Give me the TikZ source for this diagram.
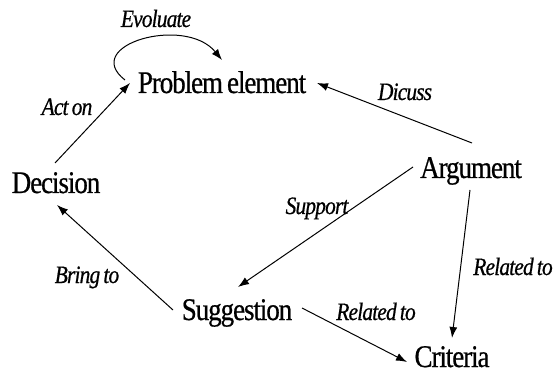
\documentclass[tikz,border=0pt]{standalone}
\usepackage{fontspec}
\usetikzlibrary{arrows.meta}
\newfontfamily\termfont[FakeStretch=0.86, LetterSpace=-3.5, WordSpace=0.7, FakeBold=0.6]{Liberation Serif}
\begin{document}
\begin{tikzpicture}[x=1pt, y=-1pt,
  term/.style={font=\termfont\fontsize{31.5}{33}\selectfont, inner sep=0pt, anchor=base},
  rel/.style={font=\termfont\itshape\fontsize{25}{27}\selectfont, inner sep=0pt, anchor=base},
  link/.style={line width=1pt, -{Latex[length=11pt, width=8pt]}}
]
\useasboundingbox (0,0) rectangle (559,379);

% concepts
\node[term] (prob) at (222,93)  {Problem element};
\node[term] (dec)  at (56,193)  {Decision};
\node[term] (arg)  at (471,178) {Argument};
\node[term] (sug)  at (237,320) {Suggestion};
\node[term] (crit) at (452,367) {Criteria};

% relations
\draw[link] ([shift={(-1,-30)}]dec.base) -- ([shift={(-92,-10)}]prob.base);
\draw[link] ([shift={(-97,-13)}]prob.base)
  .. controls (80,45) and (185,15) .. ([shift={(0,-33)}]prob.base);
\draw[link] ([shift={(1,-35)}]arg.base) -- ([shift={(95,-10)}]prob.base);
\draw[link] ([shift={(-58,-11)}]arg.base) -- ([shift={(1,-33)}]sug.base);
\draw[link] ([shift={(-1,12)}]arg.base) -- ([shift={(0,-29)}]crit.base);
\draw[link] ([shift={(-64,-10)}]sug.base) -- ([shift={(1,12)}]dec.base);
\draw[link] ([shift={(65,-12)}]sug.base) -- ([shift={(-45,-5)}]crit.base);

% relation labels
\node[rel] (lev)  at (156,27)  {Evoluate};
\node[rel] (lact) at (67,115)  {Act on};
\node[rel] (ldis) at (405,100) {Dicuss};
\node[rel] (lsup) at (317,214) {Support};
\node[rel] (lbri) at (87,283)  {Bring to};
\node[rel] (lrs)  at (376,320) {Related to};
\node[rel] (lra)  at (513,275) {Related to};
\end{tikzpicture}
\end{document}
